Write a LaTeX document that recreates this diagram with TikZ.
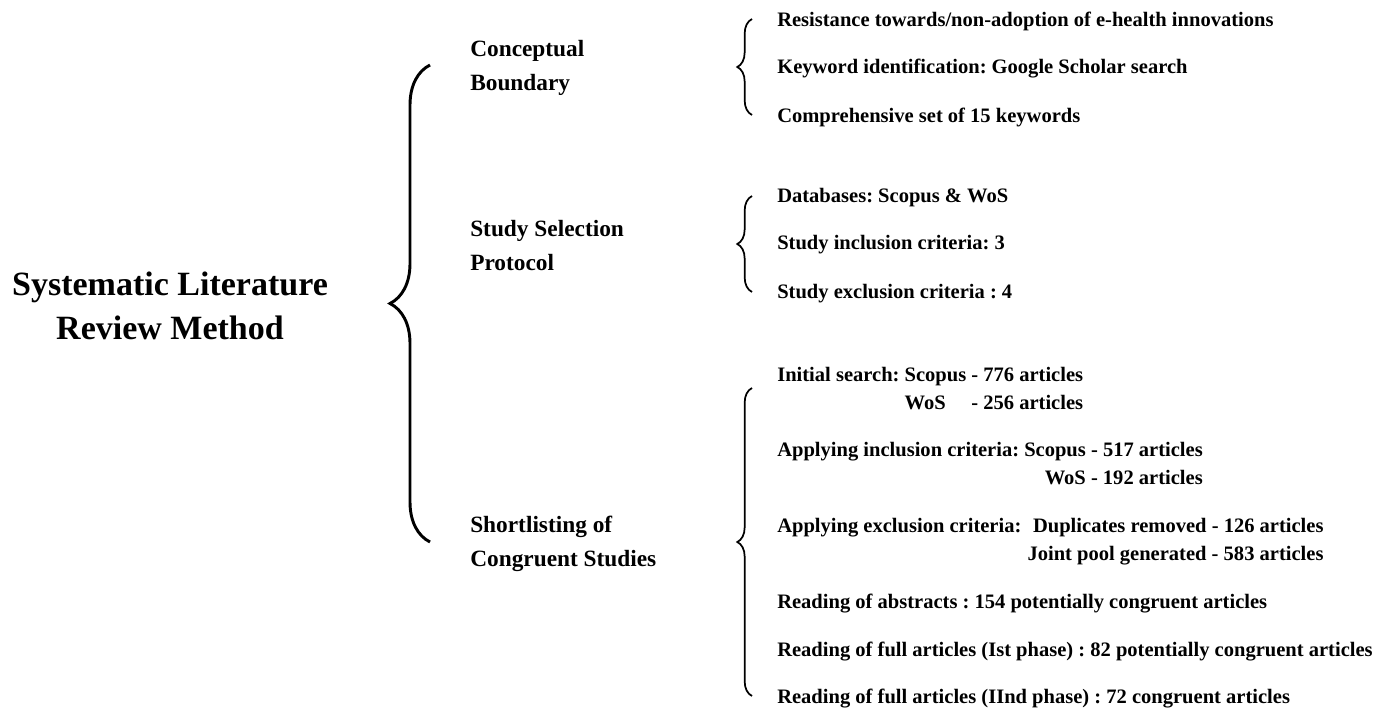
\documentclass[tikz,border=0pt]{standalone}
\usepackage{fontspec}
\setmainfont{Liberation Serif}
\frenchspacing
\usetikzlibrary{decorations.pathreplacing, calc, positioning}

\begin{document}
\begin{tikzpicture}[
        x=0.75pt, y=-0.75pt,
        title/.style={font=\fontsize{25.5}{33}\selectfont\bfseries, align=center, inner sep=0pt},
        phase/.style={font=\fontsize{17.5}{25.5}\selectfont\bfseries, align=left, anchor=west, inner sep=0pt},
        item/.style={font=\fontsize{15.4}{21}\selectfont\bfseries, anchor=west, inner sep=0pt},
        bigbrace/.style={decorate, decoration={brace, amplitude=30pt}, line width=2.2pt},
        smallbrace/.style={decorate, decoration={brace, amplitude=11pt}, line width=1.3pt}
    ]
        \useasboundingbox (0,0) rectangle (1391,710);

        \node[title] (slr) at (170,306) {Systematic Literature\\Review Method};

        \node[phase] (concept) at (470,68) {Conceptual\\Boundary};
        \node[phase] (protocol) at (470,246) {Study Selection\\Protocol};
        \node[phase] (shortlist) at (470,544) {Shortlisting of\\Congruent Studies};

        \coordinate (bigtop) at (430,65);
        \coordinate (bigbot) at (430,542);
        \draw[bigbrace] (bigbot) -- (bigtop);

        % conceptual boundary
        \node[item] (c1) at (777,21) {Resistance towards/non-adoption of e-health innovations};
        \node[item] (c2) at (777,69) {Keyword identification: Google Scholar search};
        \node[item] (c3) at (777,117) {Comprehensive set of 15 keywords};

        % study selection protocol
        \node[item] (p1) at (777,198) {Databases: Scopus \& WoS};
        \node[item] (p2) at (777,245) {Study inclusion criteria: 3};
        \node[item] (p3) at (777,294) {Study exclusion criteria : 4};

        % shortlisting of congruent studies
        \node[item] (s1) at (777,390) {\begin{tabular}{@{}l@{}l@{}l@{}}
            Initial search:~ & Scopus & ~- 776 articles\\
             & WoS & ~- 256 articles
        \end{tabular}};
        \node[item] (s2) at (777,465) {\begin{tabular}{@{}l@{}r@{}}
            Applying inclusion criteria:~ & Scopus - 517 articles\\
             & WoS - 192 articles
        \end{tabular}};
        \node[item] (s3) at (777,541) {\begin{tabular}{@{}l@{}r@{}}
            Applying exclusion criteria:~\hspace{0.05em} & Duplicates removed - 126 articles\\
             & Joint pool generated - 583 articles
        \end{tabular}};
        \node[item] (s4) at (777,604) {Reading of abstracts : 154 potentially congruent articles};
        \node[item] (s5) at (777,652) {Reading of full articles (Ist phase) : 82 potentially congruent articles};
        \node[item] (s6) at (777,699) {Reading of full articles (IInd phase) : 72 congruent articles};

        \draw[smallbrace] ($(c3.west)+(-25,-2)$) -- ($(c1.west)+(-25,-2)$);
        \draw[smallbrace] ($(p3.west)+(-25,-2)$) -- ($(p1.west)+(-25,-2)$);
        \draw[smallbrace] ($(s6.west)+(-25,-3)$) -- ($(s1.west)+(-25,-2)$);
    \end{tikzpicture}
\end{document}
